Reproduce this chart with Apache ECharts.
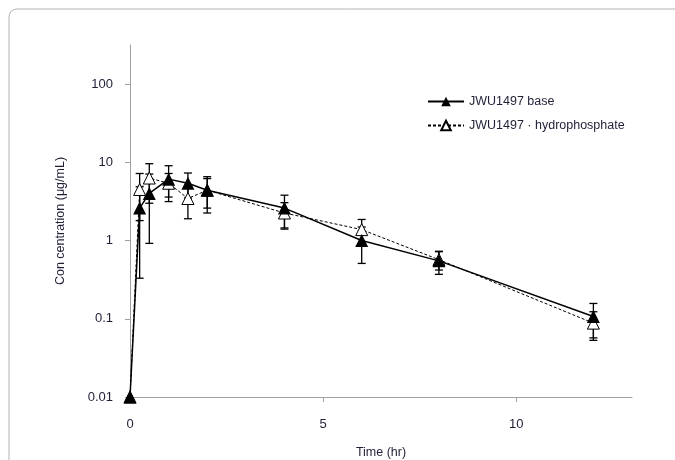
<!DOCTYPE html>
<html>
<head>
<meta charset="utf-8">
<script src="https://cdn.jsdelivr.net/npm/echarts@6/dist/echarts.min.js"></script>
<style>
  html, body { margin: 0; padding: 0; background: #fff; }
  #main { width: 675px; height: 460px; }
</style>
</head>
<body>
<div id="main"></div>
<script>
// sampling times (hr)
var times = [0, 0.25, 0.5, 1, 1.5, 2, 4, 6, 8, 12];
// JWU1497 base: mean and SD (µg/mL)
var baseMean = [0.01, 2.6, 4.0, 6.1, 5.4, 4.4, 2.6, 1.0, 0.55, 0.107];
var baseSd = [0, 2.27, 3.08, 2.95, 1.9, 2.15, 1.2, 0.49, 0.18, 0.05];
// JWU1497 hydrophosphate: mean and SD
var hydroMean = [0.01, 4.5, 6.3, 5.4, 3.45, 4.4, 2.25, 1.38, 0.57, 0.088];
var hydroSd = [0, 2.7, 3.3, 1.8, 1.55, 1.8, 0.8, 0.48, 0.15, 0.035];

var xTicks = [0, 5, 10];
var yTicks = [0.01, 0.1, 1, 10, 100];

var chart = echarts.init(document.getElementById('main'), null, { renderer: 'canvas' });

function pairs(mean) {
  var out = [];
  for (var i = 0; i < times.length; i++) out.push([times[i], mean[i]]);
  return out;
}
function bars(mean, sd) {
  var out = [];
  for (var i = 0; i < times.length; i++) {
    if (sd[i] > 0) out.push([times[i], Math.max(mean[i] - sd[i], 0.011), mean[i] + sd[i]]);
  }
  return out;
}

function renderErr(params, api) {
  var x = api.value(0);
  var lo = api.coord([x, api.value(1)]);
  var hi = api.coord([x, api.value(2)]);
  var w = 4;
  var st = { stroke: '#000', lineWidth: 1.3 };
  return {
    type: 'group',
    children: [
      { type: 'line', shape: { x1: lo[0], y1: lo[1], x2: hi[0], y2: hi[1] }, style: st },
      { type: 'line', shape: { x1: hi[0] - w, y1: hi[1], x2: hi[0] + w, y2: hi[1] }, style: st },
      { type: 'line', shape: { x1: lo[0] - w, y1: lo[1], x2: lo[0] + w, y2: lo[1] }, style: st }
    ]
  };
}

var font = '"Liberation Sans", "Open Sans", sans-serif';
var textCol = '#1f1f36';

var option = {
  animation: false,
  backgroundColor: '#fff',
  graphic: [{
    type: 'rect',
    shape: { x: 9, y: 9, width: 720, height: 520, r: 8 },
    style: { fill: 'none', stroke: '#b4b4b4', lineWidth: 1 },
    silent: true
  }],
  grid: { left: 130, right: 43, top: 45, bottom: 63, containLabel: false, outerBoundsMode: 'none' },
  legend: {
    orient: 'vertical',
    left: 422,
    top: 90,
    itemWidth: 36,
    itemHeight: 12,
    itemGap: 11,
    textStyle: { color: textCol, fontSize: 12.5, fontFamily: font },
    data: ['JWU1497 base', 'JWU1497 · hydrophosphate']
  },
  xAxis: {
    type: 'value',
    min: 0,
    max: 13,
    interval: 5,
    name: 'Time (hr)',
    nameLocation: 'middle',
    nameGap: 49,
    nameTextStyle: { color: textCol, fontSize: 12.5, fontFamily: font },
    axisLine: { lineStyle: { color: '#a0a0a0', width: 1 } },
    axisTick: { show: true, length: 5, lineStyle: { color: '#a0a0a0' }, customValues: xTicks },
    axisLabel: { color: textCol, fontSize: 13, fontFamily: font, margin: 21, customValues: xTicks },
    splitLine: { show: false }
  },
  yAxis: {
    type: 'log',
    logBase: 10,
    min: 0.01,
    max: 316.23,
    name: 'Con centration (μg/mL)',
    nameLocation: 'middle',
    nameGap: 63,
    nameTextStyle: { color: textCol, fontSize: 12.5, fontFamily: font },
    axisLine: { show: true, lineStyle: { color: '#a0a0a0', width: 1 } },
    axisTick: { show: true, length: 5, lineStyle: { color: '#a0a0a0' }, customValues: yTicks },
    axisLabel: {
      color: textCol, fontSize: 13, fontFamily: font, margin: 17,
      customValues: yTicks,
      formatter: function (v) { return String(+v.toPrecision(3)); }
    },
    splitLine: { show: false }
  },
  series: [
    {
      name: 'JWU1497 · hydrophosphate',
      type: 'line',
      data: pairs(hydroMean),
      clip: false,
      symbol: 'triangle',
      symbolSize: 12,
      itemStyle: { color: '#fff', borderColor: '#000', borderWidth: 1 },
      lineStyle: { color: '#000', width: 1, type: [3, 2] },
      z: 3
    },
    {
      name: 'hydroErr',
      type: 'custom',
      data: bars(hydroMean, hydroSd),
      renderItem: renderErr,
      clip: false,
      z: 2
    },
    {
      name: 'JWU1497 base',
      type: 'line',
      data: pairs(baseMean),
      clip: false,
      symbol: 'triangle',
      symbolSize: 13,
      itemStyle: { color: '#000', borderColor: '#000', borderWidth: 0 },
      lineStyle: { color: '#000', width: 1.5 },
      z: 4
    },
    {
      name: 'baseErr',
      type: 'custom',
      data: bars(baseMean, baseSd),
      renderItem: renderErr,
      clip: false,
      z: 2
    }
  ]
};

chart.setOption(option);
</script>
</body>
</html>
